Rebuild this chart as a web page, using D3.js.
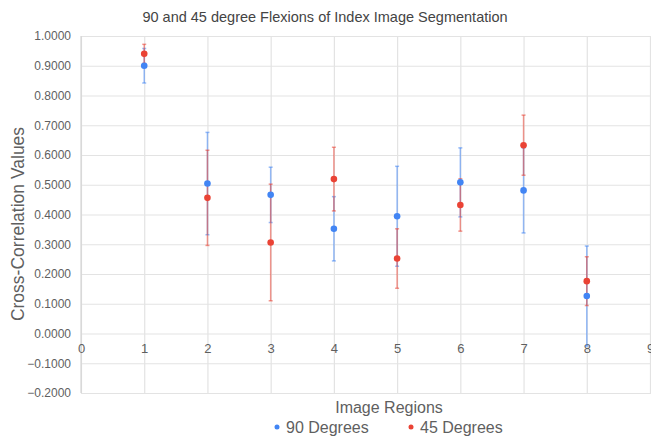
<!DOCTYPE html>
<html>
<head>
<meta charset="utf-8">
<script src="https://cdn.jsdelivr.net/npm/d3@7"></script>
<style>
  body { margin: 0; background: #fff; }
  text { font-family: "Liberation Sans", Arial, sans-serif; }
</style>
</head>
<body>
<script>
// data
var regions = [1, 2, 3, 4, 5, 6, 7, 8];
var seriesNames = ["90 Degrees", "45 Degrees"];
var deg90 = [0.900, 0.504, 0.466, 0.352, 0.394, 0.508, 0.481, 0.126];
var deg90Err = [0.058, 0.172, 0.093, 0.108, 0.168, 0.116, 0.143, 0.168];
var deg45 = [0.940, 0.456, 0.306, 0.519, 0.252, 0.432, 0.633, 0.176];
var deg45Err = [0.032, 0.160, 0.196, 0.107, 0.100, 0.088, 0.101, 0.082];
var xTicks = [0, 1, 2, 3, 4, 5, 6, 7, 8, 9];
var yTicks = [-0.2, -0.1, 0, 0.1, 0.2, 0.3, 0.4, 0.5, 0.6, 0.7, 0.8, 0.9, 1.0];
var colors = ["#4285f4", "#ea4335"];

var svgWidth = 651;
var svgHeight = 440;

var margin = { top: 36, right: 0, bottom: 47, left: 81 };
var chartWidth = svgWidth - margin.left - margin.right;
var chartHeight = svgHeight - margin.top - margin.bottom;

var svg = d3.select("body")
  .append("svg")
  .attr("width", svgWidth)
  .attr("height", svgHeight);

var chartGroup = svg.append("g")
  .attr("transform", `translate(${margin.left}, ${margin.top})`);

var xScale = d3.scaleLinear()
  .domain([0, 9])
  .range([0, chartWidth - 1]);

var yScale = d3.scaleLinear()
  .domain([-0.2, 1.0])
  .range([chartHeight, 0]);

// vertical grid
chartGroup.append("g")
  .attr("class", "grid")
  .attr("transform", `translate(0, ${chartHeight})`)
  .call(d3.axisBottom(xScale).tickValues(xTicks).tickSize(-chartHeight).tickFormat(""))
  .call(g => g.select(".domain").remove());

// horizontal grid + y labels
chartGroup.append("g")
  .attr("class", "grid")
  .call(d3.axisLeft(yScale).tickValues(yTicks).tickSize(-chartWidth).tickFormat(d3.format(".4f")).tickPadding(10))
  .call(g => g.select(".domain").remove());

chartGroup.selectAll(".grid line")
  .attr("stroke", "#e3e3e3")
  .attr("stroke-width", 1.2);

chartGroup.selectAll(".grid text")
  .attr("fill", "#5f5f5f")
  .style("font-size", "12px");

// left axis line
chartGroup.append("line")
  .attr("x1", 0).attr("x2", 0)
  .attr("y1", 0).attr("y2", chartHeight)
  .attr("stroke", "#d0d0d0");

// x labels sit on the zero line
chartGroup.append("g")
  .attr("transform", `translate(0, ${yScale(0)})`)
  .call(d3.axisBottom(xScale).tickValues(xTicks).tickSize(0).tickPadding(10).tickFormat(d3.format("d")))
  .call(g => g.select(".domain").remove())
  .selectAll("text")
  .attr("fill", "#5f5f5f")
  .style("font-size", "13px");

// error bars then points
var series = [
  { name: seriesNames[0], values: deg90, err: deg90Err, color: colors[0] },
  { name: seriesNames[1], values: deg45, err: deg45Err, color: colors[1] }
];

series.forEach(function(s) {
  var bars = chartGroup.append("g")
    .attr("stroke", s.color)
    .attr("stroke-opacity", 0.55)
    .attr("stroke-width", 1.5);
  regions.forEach(function(r, i) {
    var top = yScale(s.values[i] + s.err[i]);
    var bot = yScale(s.values[i] - s.err[i]);
    var cx = xScale(r);
    bars.append("line").attr("x1", cx).attr("x2", cx).attr("y1", top).attr("y2", bot);
    bars.append("line").attr("x1", cx - 2).attr("x2", cx + 2).attr("y1", top).attr("y2", top);
    bars.append("line").attr("x1", cx - 2).attr("x2", cx + 2).attr("y1", bot).attr("y2", bot);
  });
});

series.forEach(function(s) {
  chartGroup.selectAll(null)
    .data(regions)
    .enter()
    .append("circle")
    .attr("cx", d => xScale(d))
    .attr("cy", (d, i) => yScale(s.values[i]))
    .attr("r", 3.3)
    .attr("fill", s.color);
});

// title
svg.append("text")
  .attr("x", 325)
  .attr("y", 22)
  .attr("text-anchor", "middle")
  .attr("fill", "#444")
  .style("font-size", "14.5px")
  .text("90 and 45 degree Flexions of Index Image Segmentation");

// axis titles
svg.append("text")
  .attr("transform", "translate(24, 224) rotate(-90)")
  .attr("text-anchor", "middle")
  .attr("fill", "#5f5f5f")
  .style("font-size", "17.5px")
  .text("Cross-Correlation Values");

svg.append("text")
  .attr("x", 389)
  .attr("y", 413)
  .attr("text-anchor", "middle")
  .attr("fill", "#5f5f5f")
  .style("font-size", "16px")
  .text("Image Regions");

// legend
var legendX = [277, 411];
series.forEach(function(s, i) {
  svg.append("circle")
    .attr("cx", legendX[i])
    .attr("cy", 427)
    .attr("r", 2.5)
    .attr("fill", s.color);
  svg.append("text")
    .attr("x", legendX[i] + 9)
    .attr("y", 433)
    .attr("fill", "#5f5f5f")
    .style("font-size", "16px")
    .text(s.name);
});
</script>
</body>
</html>
